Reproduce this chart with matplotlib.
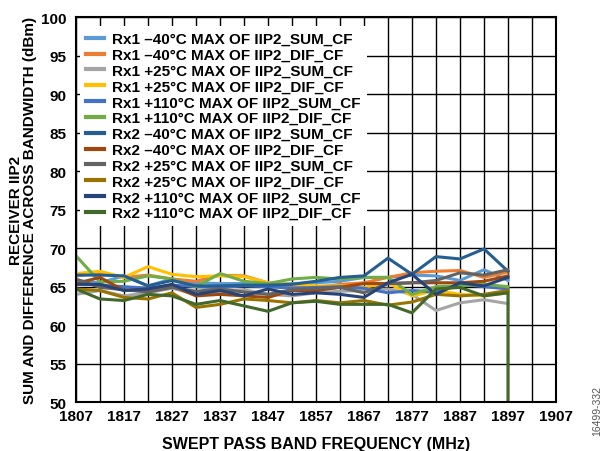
import numpy as np
import matplotlib.pyplot as plt
import matplotlib.ticker as ticker

plt.rcParams['font.family'] = ['Liberation Sans', 'DejaVu Sans']

# Frecuencias barridas [MHz]
freq = [1807, 1812, 1817, 1822, 1827, 1832, 1837, 1842, 1847, 1852,
        1857, 1862, 1867, 1872, 1877, 1882, 1887, 1892, 1897]
xticks = [1807, 1817, 1827, 1837, 1847, 1857, 1867, 1877, 1887, 1897, 1907]
xgrid = [1812, 1822, 1832, 1842, 1852, 1862, 1872, 1882, 1892, 1902]

# Valores de IIP2 [dBm]
rx1_m40_sum = [65.8, 65.5, 66.4, 65.1, 66.0, 65.5, 65.4, 65.4, 65.3, 65.4, 65.5, 65.7, 66.2, 66.2, 66.5, 66.4, 65.8, 67.2, 65.8]
rx1_m40_dif = [66.4, 66.8, 66.2, 66.5, 66.0, 65.7, 66.5, 66.4, 65.5, 65.1, 64.9, 65.3, 65.5, 66.2, 66.8, 67.0, 67.1, 66.2, 66.9]
rx1_p25_sum = [64.0, 64.5, 63.8, 64.2, 64.8, 64.0, 64.3, 64.6, 64.0, 63.8, 64.2, 64.4, 64.5, 64.7, 64.0, 61.9, 62.9, 63.3, 62.8]
rx1_p25_dif = [66.7, 67.0, 66.2, 67.6, 66.6, 66.3, 66.4, 66.3, 65.5, 65.3, 65.1, 65.1, 64.9, 65.5, 63.8, 64.5, 64.0, 63.8, 64.2]
rx1_p110_sum = [65.4, 65.2, 65.0, 64.8, 65.2, 65.0, 64.9, 65.1, 65.0, 64.8, 64.9, 65.0, 64.8, 64.2, 64.5, 64.3, 65.3, 65.0, 64.7]
rx1_p110_dif = [69.0, 65.6, 65.7, 66.4, 66.0, 65.0, 66.7, 65.7, 65.4, 66.0, 66.2, 66.0, 66.2, 66.2, 64.0, 65.0, 65.1, 65.3, 65.0]
rx2_m40_sum = [66.5, 66.5, 66.4, 65.1, 65.8, 65.1, 65.1, 65.2, 65.2, 65.3, 65.7, 66.2, 66.4, 68.7, 66.6, 68.9, 68.6, 69.9, 67.0]
rx2_m40_dif = [65.4, 66.2, 64.5, 64.7, 65.1, 63.8, 64.0, 63.8, 63.6, 64.5, 64.5, 64.9, 65.4, 65.4, 65.5, 65.5, 65.5, 65.7, 66.4]
rx2_p25_sum = [66.0, 64.9, 64.6, 64.3, 64.9, 64.4, 64.7, 64.3, 64.0, 64.6, 64.8, 64.9, 64.2, 65.4, 65.5, 65.8, 66.8, 66.5, 67.2]
rx2_p25_dif = [64.7, 64.5, 63.6, 63.4, 64.2, 62.3, 62.7, 63.4, 63.2, 62.9, 63.2, 62.9, 63.2, 62.6, 63.0, 64.0, 63.8, 64.0, 64.5]
rx2_p110_sum = [65.3, 65.3, 64.5, 64.7, 65.3, 64.0, 64.5, 63.8, 64.7, 64.0, 64.2, 64.0, 63.6, 65.5, 66.6, 64.0, 65.5, 65.1, 66.2]
rx2_p110_dif = [64.7, 63.4, 63.2, 64.0, 63.8, 62.7, 63.2, 62.5, 61.8, 62.9, 63.1, 62.7, 62.7, 62.7, 61.6, 64.7, 64.9, 63.8, 64.2]
# el último canal de Rx2 +110°C DIF cae fuera de escala en 1897 MHz
freq_p110_dif = freq + [1897]
rx2_p110_dif = rx2_p110_dif + [0.0]

series = [
    (freq, rx1_m40_sum, '#5B9BD5', 'Rx1 –40°C MAX OF IIP2_SUM_CF'),
    (freq, rx1_m40_dif, '#ED7D31', 'Rx1 –40°C MAX OF IIP2_DIF_CF'),
    (freq, rx1_p25_sum, '#A5A5A5', 'Rx1 +25°C MAX OF IIP2_SUM_CF'),
    (freq, rx1_p25_dif, '#FFC000', 'Rx1 +25°C MAX OF IIP2_DIF_CF'),
    (freq, rx1_p110_sum, '#4472C4', 'Rx1 +110°C MAX OF IIP2_SUM_CF'),
    (freq, rx1_p110_dif, '#70AD47', 'Rx1 +110°C MAX OF IIP2_DIF_CF'),
    (freq, rx2_m40_sum, '#255E91', 'Rx2 –40°C MAX OF IIP2_SUM_CF'),
    (freq, rx2_m40_dif, '#9E480E', 'Rx2 –40°C MAX OF IIP2_DIF_CF'),
    (freq, rx2_p25_sum, '#636363', 'Rx2 +25°C MAX OF IIP2_SUM_CF'),
    (freq, rx2_p25_dif, '#997300', 'Rx2 +25°C MAX OF IIP2_DIF_CF'),
    (freq, rx2_p110_sum, '#264478', 'Rx2 +110°C MAX OF IIP2_SUM_CF'),
    (freq_p110_dif, rx2_p110_dif, '#43682B', 'Rx2 +110°C MAX OF IIP2_DIF_CF'),
]

fig = plt.figure(figsize=(6.03, 4.52), dpi=100)
ax = fig.add_axes([0.126, 0.108, 0.796, 0.852])

for x, y, c, lab in series:
    ax.plot(x, y, color=c, lw=2.2, label=lab, solid_joinstyle='miter')

ax.set_xlim(1807, 1907)
ax.set_ylim(50, 100)
ax.xaxis.set_major_locator(ticker.FixedLocator(xticks))
ax.xaxis.set_minor_locator(ticker.FixedLocator(xgrid))
ax.yaxis.set_major_locator(ticker.MultipleLocator(5))
ax.grid(which='both', color='black', lw=1.0)
ax.set_axisbelow(True)
for s in ax.spines.values():
    s.set_linewidth(1.5)
ax.tick_params(which='both', length=0, labelsize=11)
ax.tick_params(axis='x', pad=5)
ax.tick_params(axis='y', pad=7)
for t in ax.get_xticklabels() + ax.get_yticklabels():
    t.set_fontweight('bold')

ax.set_xlabel('SWEPT PASS BAND FREQUENCY (MHz)', fontsize=11.5, fontweight='bold', labelpad=9)
ax.set_ylabel('RECEIVER IIP2\nSUM AND DIFFERENCE ACROSS BANDWIDTH (dBm)',
              fontsize=11, fontweight='bold', labelpad=3, linespacing=1.0)

leg = ax.legend(loc='upper left', bbox_to_anchor=(0.002, 0.985),
                prop={'weight': 'bold', 'size': 11}, frameon=True, framealpha=1,
                facecolor='white', edgecolor='none', fancybox=False,
                handlelength=1.2, handletextpad=0.5, labelspacing=0.12,
                borderpad=0.4, borderaxespad=0.2)
for h in leg.get_lines():
    h.set_linewidth(3)

fig.text(0.99, 0.09, '16499-332', rotation=90, fontsize=7.5, color='#555555',
         ha='center', va='center')

fig.savefig('out.png', dpi=100)
